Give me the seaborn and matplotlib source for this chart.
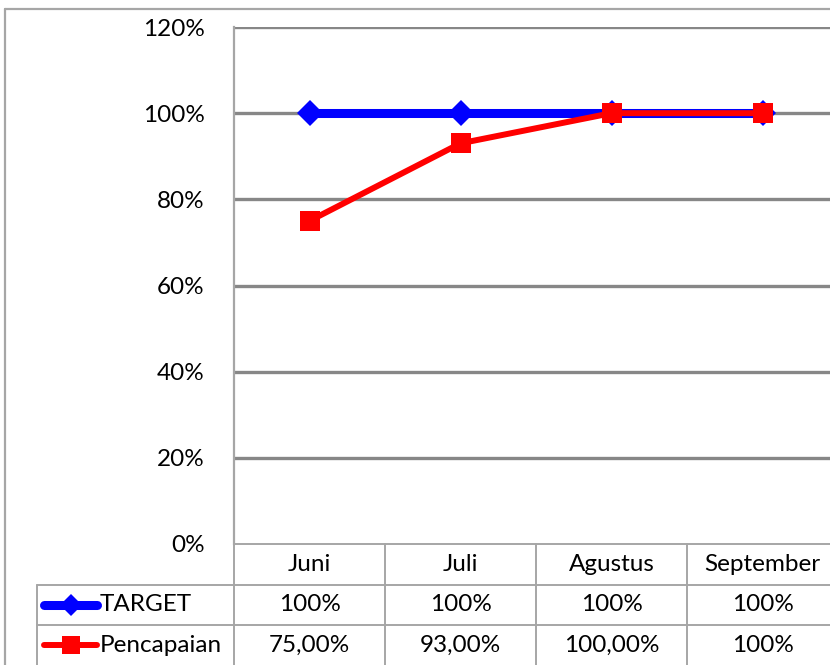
import pandas as pd
import numpy as np
import matplotlib.pyplot as plt
import seaborn as sns
from matplotlib.lines import Line2D

# --- data ---
bulan = ["Juni", "Juli", "Agustus", "September"]
target = [100, 100, 100, 100]
pencapaian = [75, 93, 100, 100]
target_label = ["100%", "100%", "100%", "100%"]
pencapaian_label = ["75,00%", "93,00%", "100,00%", "100%"]
yticks = [0, 20, 40, 60, 80, 100, 120]

df = pd.DataFrame({
    "bulan": bulan * 2,
    "nilai": target + pencapaian,
    "seri": ["TARGET"] * 4 + ["Pencapaian"] * 4,
})

sns.set_style("white")
plt.rcParams["font.family"] = ["Lato", "DejaVu Sans"]
plt.rcParams["text.color"] = "black"
plt.rcParams["ytick.color"] = "black"

W, H = 830, 665
fs = 17.5
fig = plt.figure(figsize=(W / 100, H / 100), dpi=100)

# plot area in pixels
x0, x1, ytop, ybot = 234, 838, 27, 544
ax = fig.add_axes([x0 / W, (H - ybot) / H, (x1 - x0) / W, (ybot - ytop) / H])

df["x"] = df["bulan"].map({b: i for i, b in enumerate(bulan)})

sns.lineplot(data=df[df.seri == "TARGET"], x="x", y="nilai", ax=ax, color="#0000ff",
             linewidth=6.5, marker="D", markersize=13, markeredgewidth=0, zorder=3)
sns.lineplot(data=df[df.seri == "Pencapaian"], x="x", y="nilai", ax=ax, color="#ff0000",
             linewidth=4.3, marker="s", markersize=14, markeredgewidth=0, zorder=4)

ax.set_xlim(-0.5, len(bulan) - 0.5)
ax.set_ylim(0, 120)
ax.set_yticks(yticks)
ax.set_yticklabels([f"{v}%" for v in yticks], fontsize=fs)
ax.tick_params(axis="y", length=0, pad=21, labelcolor="black")
ax.set_xticks([])
ax.set_xlabel("")
ax.set_ylabel("")
for v in yticks[1:]:
    ax.axhline(v, color="#878787", linewidth=2.4, zorder=1)
for s in ["top", "right", "bottom"]:
    ax.spines[s].set_visible(False)
ax.spines["left"].set_color("#a6a6a6")
ax.spines["left"].set_linewidth(1.6)

# --- data table below the axis ---
trans = ax.get_xaxis_transform()
ph = ybot - ytop
row_h = 40.5 / ph
px = (x1 - x0) / len(bulan)
grid_kw = dict(color="#a6a6a6", linewidth=1.4, clip_on=False, transform=trans)
left = -0.5 - (x0 - 37) / px

ax.add_line(Line2D([-0.5, 3.5], [0, 0], **grid_kw))
for k in [1, 2]:
    ax.add_line(Line2D([left, 3.5], [-k * row_h, -k * row_h], **grid_kw))
for i in range(len(bulan) + 1):
    ax.add_line(Line2D([i - 0.5, i - 0.5], [0, -3 * row_h], **grid_kw))
ax.add_line(Line2D([left, left], [-row_h, -3 * row_h], **grid_kw))

for i, b in enumerate(bulan):
    ax.text(i, -0.5 * row_h, b, ha="center", va="center", fontsize=fs, transform=trans)
    ax.text(i, -1.5 * row_h, target_label[i], ha="center", va="center", fontsize=fs, transform=trans)
    ax.text(i, -2.5 * row_h, pencapaian_label[i], ha="center", va="center", fontsize=fs, transform=trans)

# legend keys in the row headers
k0 = -0.5 - (x0 - 44) / px
k1 = -0.5 - (x0 - 97) / px
km = (k0 + k1) / 2
ax.add_line(Line2D([k0, k1], [-1.5 * row_h] * 2, color="#0000ff", linewidth=6.5,
                   solid_capstyle="round", clip_on=False, transform=trans))
ax.add_line(Line2D([km], [-1.5 * row_h], color="#0000ff", marker="D", markersize=11,
                   markeredgewidth=0, clip_on=False, transform=trans))
ax.add_line(Line2D([k0, k1], [-2.5 * row_h] * 2, color="#ff0000", linewidth=4.3,
                   solid_capstyle="round", clip_on=False, transform=trans))
ax.add_line(Line2D([km], [-2.5 * row_h], color="#ff0000", marker="s", markersize=13,
                   markeredgewidth=0, clip_on=False, transform=trans))
lx = -0.5 - (x0 - 100) / px
ax.text(lx, -1.5 * row_h, "TARGET", ha="left", va="center", fontsize=fs, transform=trans)
ax.text(lx, -2.5 * row_h, "Pencapaian", ha="left", va="center", fontsize=fs, transform=trans)

# outer chart border
fig.add_artist(Line2D([4.5 / W, 4.5 / W], [0, (H - 8.5) / H], color="#a6a6a6", linewidth=1.6))
fig.add_artist(Line2D([4.5 / W, 1], [(H - 8.5) / H] * 2, color="#a6a6a6", linewidth=1.6))

fig.savefig("out.png", dpi=100)
